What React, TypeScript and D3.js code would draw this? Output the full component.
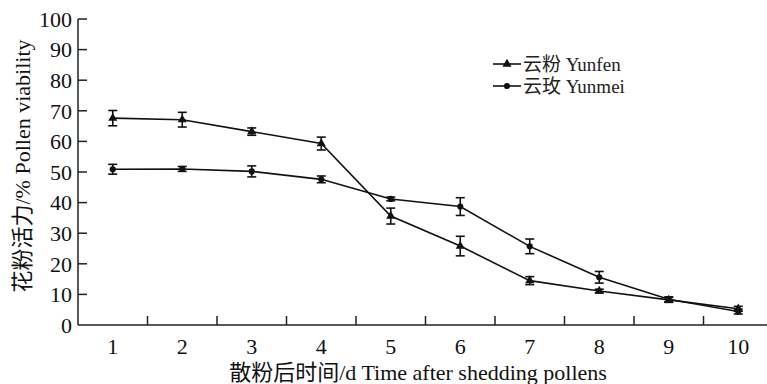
import React, { useEffect, useRef } from "react";
import * as d3 from "d3";

const days = ["1", "2", "3", "4", "5", "6", "7", "8", "9", "10"];
const yunfen = [67.6, 67.1, 63.2, 59.3, 35.6, 25.8, 14.5, 11.1, 8.2, 5.3];
const yunfenErr = [2.5, 2.4, 1.2, 2.1, 2.6, 3.2, 1.3, 0.6, 0.8, 0.8];
const yunmei = [50.9, 51.0, 50.2, 47.6, 41.2, 38.7, 25.7, 15.6, 8.4, 4.4];
const yunmeiErr = [1.6, 0.8, 1.8, 1.1, 0.6, 2.9, 2.4, 1.9, 0.8, 0.8];
const yTicks = [0, 10, 20, 30, 40, 50, 60, 70, 80, 90, 100];

const FONT = "Liberation Serif, Times New Roman, DejaVu Serif, Noto Sans CJK SC, serif";

const App = () => {
  const svgRef = useRef<SVGSVGElement>(null);

  useEffect(() => {
    const width = 767;
    const height = 384;
    const left = 78;
    const bottom = 325;
    const top = 19;

    const svg = d3.select(svgRef.current);
    svg.selectAll("*").remove();
    svg.attr("width", width).attr("height", height).style("font-family", FONT);

    const x = d3.scaleBand().domain(days).range([left, 773]).padding(0);
    const y = d3.scaleLinear().domain([0, 100]).range([bottom, top]);
    const cx = (d: string) => (x(d) as number) + x.bandwidth() / 2;

    // axes
    svg
      .append("line")
      .attr("x1", left)
      .attr("x2", left)
      .attr("y1", top)
      .attr("y2", bottom)
      .attr("stroke", "#222")
      .attr("stroke-width", 1.5);
    svg
      .append("line")
      .attr("x1", left)
      .attr("x2", width)
      .attr("y1", bottom)
      .attr("y2", bottom)
      .attr("stroke", "#222")
      .attr("stroke-width", 1.5);

    svg
      .selectAll(".ytick")
      .data(yTicks.filter((t) => t > 0))
      .enter()
      .append("line")
      .attr("x1", left)
      .attr("x2", left + 9)
      .attr("y1", (d) => y(d))
      .attr("y2", (d) => y(d))
      .attr("stroke", "#222")
      .attr("stroke-width", 1.5);

    svg
      .selectAll(".ylab")
      .data(yTicks)
      .enter()
      .append("text")
      .attr("x", left - 6)
      .attr("y", (d) => y(d))
      .attr("dy", "0.35em")
      .attr("text-anchor", "end")
      .style("font-family", FONT)
      .attr("font-size", 22)
      .attr("fill", "#111")
      .text((d) => d);

    svg
      .selectAll(".xtick")
      .data(days.slice(1))
      .enter()
      .append("line")
      .attr("x1", (d) => x(d) as number)
      .attr("x2", (d) => x(d) as number)
      .attr("y1", bottom)
      .attr("y2", bottom - 9)
      .attr("stroke", "#222")
      .attr("stroke-width", 1.5);

    svg
      .selectAll(".xlab")
      .data(days)
      .enter()
      .append("text")
      .attr("x", cx)
      .attr("y", 346)
      .attr("dy", "0.35em")
      .attr("text-anchor", "middle")
      .style("font-family", FONT)
      .attr("font-size", 22)
      .attr("fill", "#111")
      .text((d) => d);

    svg
      .append("text")
      .attr("x", 418)
      .attr("y", 372)
      .attr("dy", "0.35em")
      .attr("text-anchor", "middle")
      .style("font-family", FONT)
      .attr("font-size", 22)
      .attr("fill", "#111")
      .text("散粉后时间/d Time after shedding pollens");

    svg
      .append("text")
      .attr("transform", "translate(22,166) rotate(-90)")
      .attr("dy", "0.35em")
      .attr("text-anchor", "middle")
      .style("font-family", FONT)
      .attr("font-size", 22)
      .attr("fill", "#111")
      .text("花粉活力/% Pollen viability");

    const line = d3
      .line<number>()
      .x((_, i) => cx(days[i]))
      .y((d) => y(d));

    const tri = d3.symbol().type(d3.symbolTriangle).size(36);
    const dot = d3.symbol().type(d3.symbolCircle).size(30);

    const series = [
      { values: yunfen, err: yunfenErr, sym: tri },
      { values: yunmei, err: yunmeiErr, sym: dot },
    ];

    series.forEach((s) => {
      const g = svg.append("g");
      g.append("path")
        .attr("d", line(s.values))
        .attr("fill", "none")
        .attr("stroke", "#111")
        .attr("stroke-width", 1.6);

      const eb = g
        .selectAll(".err")
        .data(s.values)
        .enter()
        .append("g")
        .attr("stroke", "#111")
        .attr("stroke-width", 1.6);
      eb.append("line")
        .attr("x1", (_, i) => cx(days[i]))
        .attr("x2", (_, i) => cx(days[i]))
        .attr("y1", (d, i) => y(d + s.err[i]))
        .attr("y2", (d, i) => y(d - s.err[i]));
      eb.append("line")
        .attr("x1", (_, i) => cx(days[i]) - 4.5)
        .attr("x2", (_, i) => cx(days[i]) + 4.5)
        .attr("y1", (d, i) => y(d + s.err[i]))
        .attr("y2", (d, i) => y(d + s.err[i]));
      eb.append("line")
        .attr("x1", (_, i) => cx(days[i]) - 4.5)
        .attr("x2", (_, i) => cx(days[i]) + 4.5)
        .attr("y1", (d, i) => y(d - s.err[i]))
        .attr("y2", (d, i) => y(d - s.err[i]));

      g.selectAll(".mk")
        .data(s.values)
        .enter()
        .append("path")
        .attr("d", s.sym as any)
        .attr("transform", (d, i) => `translate(${cx(days[i])},${y(d)})`)
        .attr("fill", "#111");
    });

    // legend
    const legend = [
      { label: "云粉 Yunfen", sym: tri, yy: 64 },
      { label: "云玫 Yunmei", sym: dot, yy: 86 },
    ];
    legend.forEach((l) => {
      svg
        .append("line")
        .attr("x1", 493)
        .attr("x2", 521)
        .attr("y1", l.yy)
        .attr("y2", l.yy)
        .attr("stroke", "#111")
        .attr("stroke-width", 1.6);
      svg
        .append("path")
        .attr("d", l.sym() as string)
        .attr("transform", `translate(507,${l.yy})`)
        .attr("fill", "#111");
      svg
        .append("text")
        .attr("x", 523)
        .attr("y", l.yy)
        .attr("dy", "0.35em")
        .style("font-family", FONT)
        .attr("font-size", 19)
        .attr("fill", "#222")
        .text(l.label);
    });
  }, []);

  return (
    <svg
      ref={svgRef}
      style={{ position: "absolute", left: 0, top: 0, background: "#fff" }}
    ></svg>
  );
};

export default App;
